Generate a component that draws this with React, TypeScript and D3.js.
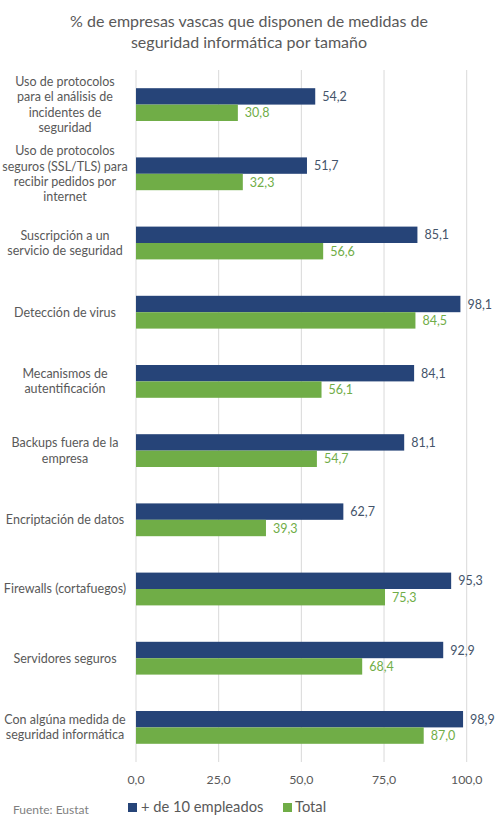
import React from "react";
import * as d3 from "d3";

const categories: string[][] = [
  ["Uso de protocolos", "para el análisis de", "incidentes de", "seguridad"],
  ["Uso de protocolos", "seguros (SSL/TLS) para", "recibir pedidos por", "internet"],
  ["Suscripción a un", "servicio de seguridad"],
  ["Detección de virus"],
  ["Mecanismos de", "autentificación"],
  ["Backups fuera de la", "empresa"],
  ["Encriptación de datos"],
  ["Firewalls (cortafuegos)"],
  ["Servidores seguros"],
  ["Con algúna medida de", "seguridad informática"],
];
const seriesNames = ["+ de 10 empleados", "Total"];
const values10 = [54.2, 51.7, 85.1, 98.1, 84.1, 81.1, 62.7, 95.3, 92.9, 98.9];
const valuesTotal = [30.8, 32.3, 56.6, 84.5, 56.1, 54.7, 39.3, 75.3, 68.4, 87.0];
const ticks = [0, 25, 50, 75, 100];
const titleLines = ["% de empresas vascas que disponen de medidas de", "seguridad informática por tamaño"];

const W = 499, H = 825;
const FONT = "Lato, 'Open Sans', sans-serif";
const BLUE = "#264478";
const GREEN = "#70AD47";
const fmt = (v: number) => v.toFixed(1).replace(".", ",");

export default function App() {
  const x = d3.scaleLinear().domain([0, 100]).range([136, 466.7]);
  const ids = categories.map((_, i) => String(i));
  const y = d3.scaleBand().domain(ids).range([70, 762]).padding(0);
  const bw = y.bandwidth();
  const inner = d3.scaleBand().domain(["a", "b"]).range([-16.4, 16.4]).padding(0);
  const series = [
    { key: "a", vals: values10, color: BLUE, label: "#44546A" },
    { key: "b", vals: valuesTotal, color: GREEN, label: GREEN },
  ];
  return (
    <svg width={W} height={H} style={{ position: "absolute", left: 0, top: 0, background: "#fff" }} fontFamily={FONT}>
      <rect width={W} height={H} fill="#fff" />
      {titleLines.map((t, i) => (
        <text key={i} x={249} y={27 + i * 21} textAnchor="middle" fontSize={16} fill="#595959">{t}</text>
      ))}
      {ticks.map((t) => (
        <g key={t}>
          <line x1={x(t)} x2={x(t)} y1={70} y2={762} stroke="#d9d9d9" strokeWidth={1} />
          <text x={x(t)} y={784} textAnchor="middle" fontSize={12.3} fill="#595959">{fmt(t)}</text>
        </g>
      ))}
      {ids.map((id, i) => {
        const c = (y(id) as number) + bw / 2;
        const lines = categories[i];
        const lh = 15.3;
        return (
          <g key={id}>
            {lines.map((l, j) => (
              <text key={j} x={65} y={c + (j - (lines.length - 1) / 2) * lh + 4.4} textAnchor="middle" fontSize={12.5} fill="#595959">{l}</text>
            ))}
            {series.map((s) => {
              const yy = c + (inner(s.key) as number);
              const v = s.vals[i];
              return (
                <g key={s.key}>
                  <rect x={x(0)} y={yy} width={x(v) - x(0)} height={inner.bandwidth()} fill={s.color} />
                  <text x={x(v) + 7} y={yy + inner.bandwidth() / 2 + 4.5} fontSize={12.5} fill={s.label}>{fmt(v)}</text>
                </g>
              );
            })}
          </g>
        );
      })}
      <text x={13} y={814} fontSize={12} fill="#7f7f7f">Fuente: Eustat</text>
      <rect x={128} y={803} width={9} height={9} fill={BLUE} />
      <text x={141} y={812} fontSize={14.7} fill="#595959">{seriesNames[0]}</text>
      <rect x={283} y={803} width={9} height={9} fill={GREEN} />
      <text x={295} y={812} fontSize={14.7} fill="#595959">{seriesNames[1]}</text>
    </svg>
  );
}
